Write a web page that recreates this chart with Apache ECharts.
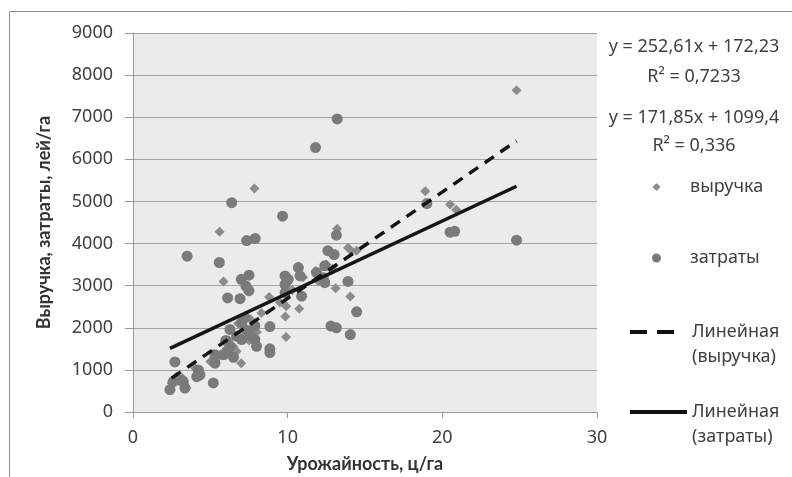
<!DOCTYPE html>
<html><head><meta charset="utf-8">
<script src="https://cdn.jsdelivr.net/npm/echarts@6/dist/echarts.min.js"></script>
<style>html,body{margin:0;padding:0;background:#fff}#c{width:792px;height:477px}</style>
</head><body><div id="c"></div>
<script>
// выручка (revenue) points: [yield, value]
const revenuePoints = [
  [24.8,7640],[18.9,5240],[20.5,4930],[20.9,4800],[7.85,5310],[5.6,4280],[13.2,4350],
  [13.9,3900],[14.45,3830],[14.1,3830],[11.8,3350],[5.85,3100],[13.1,2940],[14.05,2740],
  [8.8,2730],[9.9,2510],[10.75,2450],[9.85,2270],[9.9,1780],[6.7,1440],[7.0,1160],
  [2.8,840],[2.5,690],[3.45,570],[12.5,3500],[12.9,3400],[11.0,3200],[10.3,2900],
  [8.3,2350],[7.6,2200],[7.2,2000],[6.8,2100],[8.0,1900],[7.5,1700],[6.2,1700],
  [6.5,1550],[5.5,1300],[5.0,1200],[4.3,1000],[4.0,1050],[3.2,800],[3.0,750],
  [9.5,2600],[12.0,3100],[6.05,1360],[6.4,1480]
];
// затраты (costs) points: [yield, value]
const costPoints = [
  [13.2,6960],[11.8,6280],[6.38,4970],[9.67,4650],[7.35,4070],[7.9,4120],[3.5,3700],
  [5.58,3550],[7.0,3150],[7.5,3250],[7.3,2990],[7.5,2880],[6.12,2710],[6.92,2690],
  [13.15,4200],[12.6,3830],[13.0,3740],[12.4,3470],[12.3,3190],[11.87,3310],[12.4,3070],
  [13.9,3100],[14.46,2380],[12.8,2040],[13.15,2000],[14.05,1840],[24.8,4080],[20.5,4270],
  [20.8,4290],[19.0,4950],[9.83,3230],[10.04,3150],[10.69,3430],[10.8,3230],[10.9,2750],
  [9.83,3030],[9.83,2830],[8.85,2030],[8.85,1500],[8.85,1410],[7.24,2240],[7.88,2050],
  [7.03,2120],[6.27,1960],[6.7,1800],[7.03,1720],[7.88,1720],[7.99,1560],[6.06,1440],
  [5.84,1360],[5.3,1160],[5.3,1360],[6.27,1560],[2.71,1190],[4.22,1000],[4.33,880],
  [4.12,840],[5.19,690],[2.39,530],[2.6,720],[3.04,760],[3.25,720],[3.36,570],
  [6.5,1300],[7.3,1950],[7.6,1820],[6.0,1700]
];
const revenueTrend = { slope: 252.61, intercept: 172.23 };
const costTrend = { slope: 171.85, intercept: 1099.4 };
const revenueTrendText = ['y = 252,61x + 172,23', 'R² = 0,7233'];
const costTrendText = ['y = 171,85x + 1099,4', 'R² = 0,336'];
const seriesNames = ['выручка', 'затраты', 'Линейная\n(выручка)', 'Линейная\n(затраты)'];
const xAxisName = 'Урожайность, ц/га';
const yAxisName = 'Выручка, затраты, лей/га';
const xRange = [0, 30, 10];
const yRange = [0, 9000, 1000];

function trendLine(points, t) {
  const xs = points.map(p => p[0]);
  const x0 = Math.min(...xs), x1 = Math.max(...xs);
  return [[x0, t.slope * x0 + t.intercept], [x1, t.slope * x1 + t.intercept]];
}

const FONT = 'Noto Sans';
const TXT = '#404040';
const chart = echarts.init(document.getElementById('c'), null, { renderer: 'canvas' });

const symbolLegend = (name, icon, size, top) => ({
  data: [{ name: name, icon: icon }], left: 656.5 - size / 2, top: top, padding: 0,
  itemWidth: size, itemHeight: size, itemGap: 0, selectedMode: false, symbolKeepAspect: true,
  textStyle: { fontFamily: FONT, fontSize: 18, color: TXT, lineHeight: 25, padding: [0, 0, 0, 690 - (656.5 + size / 2) - 5] }
});
const lineLegend = (name, top, dash) => ({
  data: [name], left: 628, top: top, padding: 0, itemWidth: 57, itemHeight: 8, itemGap: 0,
  selectedMode: false,
  itemStyle: { opacity: 0 },
  lineStyle: { width: 4, type: dash, color: '#111', opacity: 1 },
  // leading empty line keeps the icon level with the first text line
  formatter: n => ' \n' + n,
  textStyle: { fontFamily: FONT, fontSize: 18, color: TXT, lineHeight: 25 }
});

chart.setOption({
  animation: false,
  backgroundColor: '#fff',
  grid: { left: 133, right: 195, top: 33, bottom: 65, show: true, backgroundColor: '#ebebeb', borderWidth: 0, containLabel: false, outerBoundsMode: 'none' },
  xAxis: {
    type: 'value', min: xRange[0], max: xRange[1], interval: xRange[2],
    name: xAxisName, nameLocation: 'middle', nameGap: 43,
    nameTextStyle: { fontFamily: 'Lato', fontSize: 18, fontWeight: 'bold', color: '#333' },
    axisLine: { show: true, lineStyle: { color: '#9a9a9a', width: 1 } },
    axisTick: { show: true, length: 6, lineStyle: { color: '#9a9a9a' } },
    axisLabel: { fontFamily: FONT, fontSize: 18, color: TXT, margin: 17 },
    splitLine: { show: false }
  },
  yAxis: {
    type: 'value', min: yRange[0], max: yRange[1], interval: yRange[2],
    name: yAxisName, nameLocation: 'middle', nameGap: 80,
    nameTextStyle: { fontFamily: 'Lato', fontSize: 18, fontWeight: 'bold', color: '#333' },
    axisLine: { show: true, lineStyle: { color: '#9a9a9a', width: 1 } },
    axisTick: { show: true, length: 8, lineStyle: { color: '#9a9a9a' } },
    axisLabel: { fontFamily: FONT, fontSize: 18, color: TXT, margin: 20, formatter: v => String(v) },
    splitLine: { show: true, lineStyle: { color: '#a3a3a3', width: 1 } }
  },
  legend: [
    symbolLegend(seriesNames[0], 'diamond', 8, 174.5),
    symbolLegend(seriesNames[1], 'circle', 9, 245.5),
    lineLegend(seriesNames[2], 294.5, [17, 10, 17, 30]),
    lineLegend(seriesNames[3], 374.5, 'solid')
  ],
  graphic: [
    { type: 'rect', left: 7, top: 9, shape: { width: 820, height: 520 }, silent: true, z: -10,
      style: { fill: 'none', stroke: '#8c8c8c', lineWidth: 1 } },
    { type: 'text', x: 694, y: 47, style: { text: revenueTrendText[0], font: '18px "Noto Sans"', fill: TXT, align: 'center', verticalAlign: 'middle' } },
    { type: 'text', x: 694, y: 77, style: { text: revenueTrendText[1], font: '18px "Noto Sans"', fill: TXT, align: 'center', verticalAlign: 'middle' } },
    { type: 'text', x: 694, y: 118, style: { text: costTrendText[0], font: '18px "Noto Sans"', fill: TXT, align: 'center', verticalAlign: 'middle' } },
    { type: 'text', x: 694, y: 146, style: { text: costTrendText[1], font: '18px "Noto Sans"', fill: TXT, align: 'center', verticalAlign: 'middle' } }
  ],
  series: [
    { name: seriesNames[0], type: 'scatter', symbol: 'diamond', symbolSize: 10, data: revenuePoints,
      itemStyle: { color: '#8c8c8c', opacity: 1 }, z: 2 },
    { name: seriesNames[1], type: 'scatter', symbol: 'circle', symbolSize: 11, data: costPoints,
      itemStyle: { color: '#7a7a7a', opacity: 1 }, z: 3 },
    { name: seriesNames[2], type: 'line', symbol: 'none', showSymbol: false, data: trendLine(revenuePoints, revenueTrend),
      itemStyle: { color: '#151515' },
      lineStyle: { color: '#151515', width: 3.5, type: [11, 8] }, z: 4 },
    { name: seriesNames[3], type: 'line', symbol: 'none', showSymbol: false, data: trendLine(costPoints, costTrend),
      itemStyle: { color: '#151515' },
      lineStyle: { color: '#151515', width: 3.5, type: 'solid' }, z: 4 }
  ]
});
</script></body></html>
